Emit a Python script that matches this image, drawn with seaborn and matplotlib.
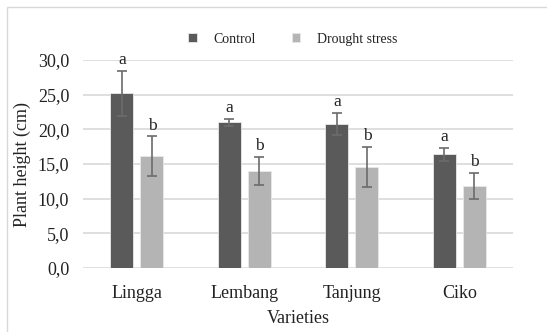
import seaborn as sns
import matplotlib.pyplot as plt
import matplotlib.ticker as mtick
import pandas as pd
import numpy as np

varieties = ['Lingga', 'Lembang', 'Tanjung', 'Ciko']
control = [25.2, 21.0, 20.8, 16.4]
drought = [16.1, 14.0, 14.6, 11.8]
control_err = [3.2, 0.5, 1.6, 0.9]
drought_err = [2.9, 2.0, 2.9, 1.9]
control_letters = ['a', 'a', 'a', 'a']
drought_letters = ['b', 'b', 'b', 'b']

df = pd.DataFrame({
    'Varieties': varieties * 2,
    'Treatment': ['Control'] * 4 + ['Drought stress'] * 4,
    'Height': control + drought,
    'Err': control_err + drought_err,
    'Letter': control_letters + drought_letters,
})

sns.set_theme(style="white")
plt.rcParams['font.family'] = ['Liberation Serif', 'DejaVu Serif']

fig = plt.figure(figsize=(5.47, 3.32), dpi=100)
ax = fig.add_axes([0.152, 0.193, 0.786, 0.626])

sns.barplot(data=df, x='Varieties', y='Height', hue='Treatment',
            palette=['#5a5a5a', '#b4b4b4'], width=0.56, gap=0.235,
            errorbar=None, ax=ax, edgecolor='#e8e8e8', linewidth=0.6)

# error bars and letters from the drawn bars
bars = [p for p in ax.patches if p.get_height() > 0]
bars = sorted(bars, key=lambda p: p.get_x())
for p in bars:
    xc = p.get_x() + p.get_width() / 2
    h = p.get_height()
    row = df.loc[np.isclose(df['Height'], h)].iloc[0]
    ax.errorbar(xc, h, yerr=row['Err'], color='#6b6b6b', capsize=3.5,
                elinewidth=1.2, capthick=1.2)
    ax.text(xc, h + row['Err'] + 0.4, row['Letter'], ha='center', va='bottom',
            fontsize=12.5, color='#222222', clip_on=False)

ax.set_ylim(0, 30)
ax.set_xlim(-0.5, 3.5)
ax.yaxis.set_major_locator(mtick.MultipleLocator(5))
ax.yaxis.set_major_formatter(mtick.FuncFormatter(lambda v, _: f'{v:.1f}'.replace('.', ',')))
ax.grid(axis='y', color='#d9d9d9', linewidth=1.2)
ax.set_axisbelow(True)
for s in ax.spines.values():
    s.set_visible(False)
ax.tick_params(axis='both', length=0, labelsize=13, colors='#222222')
ax.tick_params(axis='x', pad=12)
ax.tick_params(axis='y', pad=10)
ax.set_xlabel('Varieties', fontsize=13, color='#222222', labelpad=6)
ax.set_ylabel('Plant height (cm)', fontsize=13, color='#222222', labelpad=5)

ax.legend(loc='center', bbox_to_anchor=(0.535, 0.8825), bbox_transform=fig.transFigure,
          ncol=2, frameon=False, fontsize=10, handlelength=0.6, handleheight=0.6,
          columnspacing=2.6, handletextpad=1.2, labelcolor='#222222')

fig.patches.append(plt.Rectangle((0.013, -0.05), 1.1, 1.03, transform=fig.transFigure,
                                 fill=False, edgecolor='#d9d9d9', linewidth=1))

fig.savefig('out.png', dpi=100)
